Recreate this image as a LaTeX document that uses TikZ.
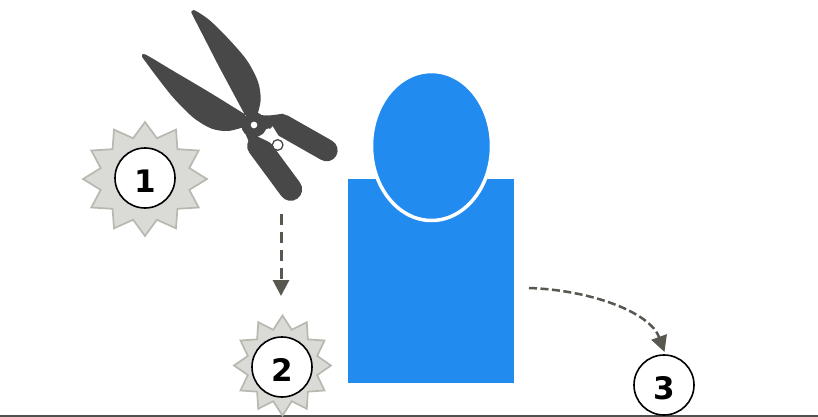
\documentclass[tikz,border=0pt]{standalone}
\usepackage{fontspec}
\setmainfont{DejaVu Sans}
\usetikzlibrary{arrows.meta}
\definecolor{bluebody}{RGB}{34,139,240}
\definecolor{burstfill}{RGB}{218,218,214}
\definecolor{burstline}{RGB}{184,184,176}
\definecolor{arrowgray}{RGB}{88,88,80}
\definecolor{toolgray}{RGB}{72,72,72}
\definecolor{groundgray}{RGB}{80,80,76}
\newcommand{\badgetext}[1]{\raisebox{-14pt}[0pt][0pt]{#1}}
\tikzset{
  burst/.style={fill=burstfill,draw=burstline,line width=1.7pt,line join=miter},
  badge/.style={circle,draw=black,fill=white,line width=1.6pt,minimum size=60pt,inner sep=0pt,font=\fontsize{31}{31}\selectfont\bfseries},
  flow/.style={draw=arrowgray,-{Triangle[length=16pt,width=16pt,fill=arrowgray]}},
  tool/.style={fill=toolgray,draw=none},
  grip/.style={draw=toolgray,line cap=round},
}
\begin{document}
\begin{tikzpicture}[x=1pt,y=-1pt]
\useasboundingbox (0,0) rectangle (818,417);
% ground
\coordinate (gl) at (0,416); \coordinate (gr) at (818,416);
\draw[groundgray,line width=1.6pt] (gl) -- (gr);
% person
\fill[bluebody] (348,179) rectangle (514,383);
\draw[bluebody,fill=bluebody] (431.5,146) ellipse [x radius=59.5,y radius=73];
\draw[white,line width=3.5pt] (431.5,146) ellipse [x radius=60,y radius=74.5];
% bursts
\draw[burst] plot[samples at={0,...,23},variable=\k] ({145+62*(1-.26*mod(\k,2))*sin(15*\k)},{179-57*(1-.26*mod(\k,2))*cos(15*\k)}) -- cycle;
\draw[burst] plot[samples at={0,...,23},variable=\k] ({282.5+48.5*(1-.26*mod(\k,2))*sin(15*\k)},{365.5-50*(1-.26*mod(\k,2))*cos(15*\k)}) -- cycle;
% badges
\node[badge] (one) at (145,178) {\badgetext{1}};
\node[badge] (two) at (282,367) {\badgetext{2}};
\node[badge] (three) at (664,385) {\badgetext{3}};
% connectors
\coordinate (a1) at (281,214); \coordinate (a2) at (281,296);
\coordinate (b1) at (529,288); \coordinate (b2) at (664.5,352);
\draw[flow,line width=3pt,dash pattern=on 11pt off 7pt] (a1) -- (a2);
\draw[flow,line width=2.5pt,dash pattern=on 8pt off 3.5pt] (b1) .. controls (590,290) and (650,312) .. (b2);
% shears, drawn in 3x crop coordinates
\begin{scope}[shift={(130,0)},x=0.3333pt,y=-0.3333pt]
\fill[tool] plot[smooth] coordinates {(184,38) (192,30) (238,60) (294,115) (350,180) (384,245) (392,300) (380,352)}
  -- (345,345) -- (266,198) -- cycle;
\fill[tool] plot[smooth] coordinates {(37,172) (45,163) (130,213) (240,278) (345,343)}
  -- (345,380)
  -- plot[smooth] coordinates {(345,380) (295,393) (245,386) (190,353) (130,293) (80,230) (37,172)} -- cycle;
\fill[tool] (372,375) circle [radius=38];
\fill[tool] (385,343) .. controls (410,350) and (430,345) .. (460,341)
  -- (470,400) -- (415,385) -- (380,400) -- cycle;
\draw[grip,line width=22pt] (458,376) -- (590,451);
\draw[grip,line width=23pt] (386,438) -- (482,568);
\fill[tool] (348,405) -- (395,395) -- (385,425) -- (365,445) -- cycle;
\fill[white] (384,410) -- (412,396) -- (428,379) -- (447,410) -- (428,432) -- (410,422) -- cycle;
\fill[white] (372,375) circle [radius=10];
\draw[toolgray,fill=white,line width=1.3pt] (443,435) circle [radius=16];
\end{scope}
\end{tikzpicture}
\end{document}
